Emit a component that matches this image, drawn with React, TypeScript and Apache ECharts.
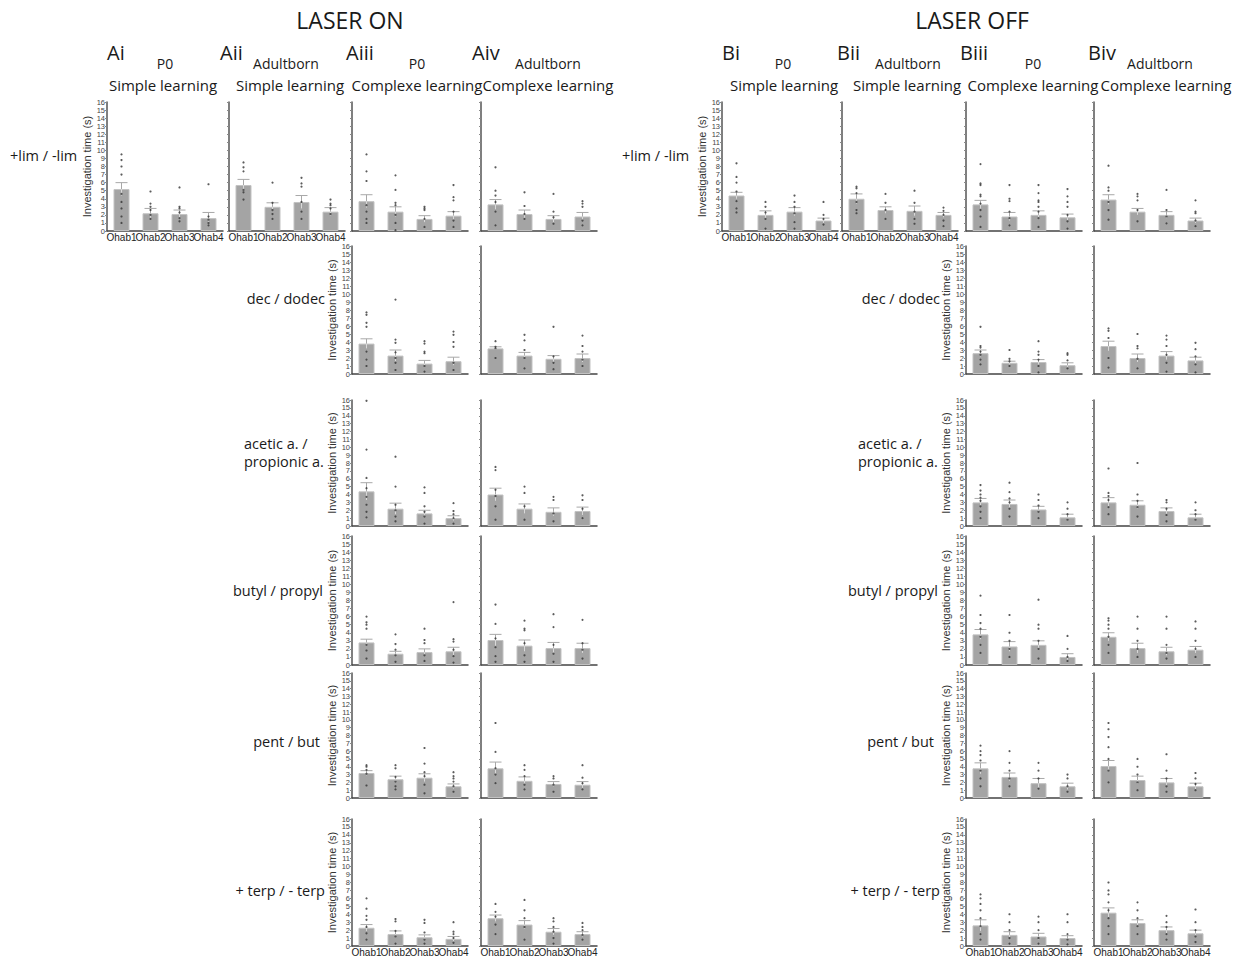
import React, { useEffect, useRef } from "react";
import * as echarts from "echarts";

// ---------- categories / tick labels ----------
const categories = ["Ohab1", "Ohab2", "Ohab3", "Ohab4"];
const yAxisName = "Investigation time (s)";

// ---------- LASER ON ----------
// +lim / -lim
const aiLimMean = [5.2, 2.2, 2.1, 1.6];
const aiLimTop = [6.0, 2.8, 2.6, 2.3];
const aiLimDots = [[9.5, 8.8, 8.0, 7.0, 4.6, 3.6, 2.8, 1.8, 1.0], [4.9, 3.4, 3.0, 2.6, 2.0, 1.5], [5.4, 3.0, 2.8, 2.3, 1.6, 1.2], [5.8, 1.8, 1.4, 1.0, 0.7]];
const aiiLimMean = [5.7, 3.0, 3.6, 2.4];
const aiiLimTop = [6.4, 3.5, 4.4, 2.9];
const aiiLimDots = [[8.5, 7.9, 7.4, 5.1, 4.8, 3.9], [6.0, 3.5, 2.6, 2.1, 1.5], [6.6, 5.9, 5.5, 3.6, 2.4, 1.5], [3.9, 3.4, 3.2, 2.8, 2.1]];
const aiiiLimMean = [3.7, 2.4, 1.5, 1.9];
const aiiiLimTop = [4.5, 3.0, 1.9, 2.4];
const aiiiLimDots = [[9.5, 7.4, 6.2, 3.2, 2.4, 1.5, 1.0], [6.9, 5.1, 3.5, 3.2, 2.0, 1.0, 0.1], [3.0, 2.8, 2.6, 1.5, 0.5], [5.7, 4.2, 3.8, 2.4, 1.3, 0.5]];
const aivLimMean = [3.3, 2.1, 1.5, 1.8];
const aivLimTop = [3.9, 2.6, 1.9, 2.3];
const aivLimDots = [[7.9, 5.0, 4.4, 3.6, 2.4, 0.7], [4.8, 3.1, 2.1, 1.5], [4.6, 2.4, 1.7, 0.9], [3.7, 3.4, 3.0, 1.3, 0.7]];
// dec / dodec
const aiiiDecMean = [3.8, 2.3, 1.3, 1.6];
const aiiiDecTop = [4.4, 3.0, 1.7, 2.1];
const aiiiDecDots = [[7.7, 7.4, 6.4, 5.9, 2.8, 1.8, 1.0], [9.3, 4.3, 3.9, 2.7, 2.0, 1.4, 0.5], [4.1, 3.8, 2.8, 2.6, 1.0, 0.3], [5.3, 4.9, 4.0, 3.4, 1.4, 0.5]];
const aivDecMean = [3.2, 2.3, 1.9, 2.0];
const aivDecTop = [3.4, 2.7, 2.3, 2.5];
const aivDecDots = [[4.1, 3.4, 3.2, 2.0], [4.9, 4.2, 3.0, 2.0, 0.7], [5.9, 2.2, 1.4, 0.6], [4.8, 3.5, 2.8, 1.8, 1.0]];
// acetic a. / propionic a.
const aiiiAceMean = [4.4, 2.2, 1.6, 1.0];
const aiiiAceTop = [5.5, 2.9, 2.0, 1.3];
const aiiiAceDots = [[15.9, 9.7, 6.1, 4.8, 3.7, 2.7, 1.8, 1.1], [8.8, 5.0, 2.7, 2.0, 1.2, 0.6], [4.9, 4.2, 2.5, 1.8, 1.2, 0.3], [2.9, 1.9, 1.5, 1.0, 0.3]];
const aivAceMean = [4.0, 2.2, 1.8, 1.9];
const aivAceTop = [4.8, 2.8, 2.3, 2.4];
const aivAceDots = [[7.5, 7.1, 4.6, 3.8, 2.5, 0.8], [5.0, 4.2, 2.5, 0.8], [3.7, 3.3, 1.6, 0.6], [3.9, 3.3, 2.2, 1.0]];
// butyl / propyl
const aiiiButMean = [2.8, 1.4, 1.6, 1.7];
const aiiiButTop = [3.2, 1.7, 2.0, 2.2];
const aiiiButDots = [[6.0, 5.3, 5.0, 4.5, 2.5, 1.8, 0.8], [3.8, 2.6, 1.9, 1.2, 0.4], [4.5, 3.1, 2.7, 1.2, 0.5], [7.8, 3.2, 2.9, 1.9, 1.1, 0.3]];
const aivButMean = [3.1, 2.4, 2.1, 2.1];
const aivButTop = [3.8, 3.1, 2.8, 2.7];
const aivButDots = [[7.5, 5.1, 3.3, 2.2, 1.1, 0.4], [5.5, 4.5, 4.3, 2.7, 1.2, 0.4], [6.3, 4.7, 2.5, 1.4, 0.4], [5.6, 2.7, 1.9, 0.8]];
// pent / but
const aiiiPentMean = [3.2, 2.4, 2.6, 1.5];
const aiiiPentTop = [3.5, 2.8, 3.1, 1.8];
const aiiiPentDots = [[4.2, 4.0, 3.6, 3.1, 1.6], [4.2, 3.8, 2.7, 2.1, 1.5, 1.1], [6.4, 4.4, 3.3, 2.8, 1.7, 0.6], [3.3, 2.8, 2.5, 2.1, 1.5, 0.8]];
const aivPentMean = [3.8, 2.2, 1.8, 1.7];
const aivPentTop = [4.6, 2.7, 2.1, 2.1];
const aivPentDots = [[9.6, 5.9, 3.8, 3.0, 1.9], [4.2, 3.6, 2.8, 1.7, 1.1], [2.8, 2.5, 1.7, 0.8], [4.2, 2.6, 1.9, 1.1]];
// + terp / - terp
const aiiiTerpMean = [2.3, 1.5, 1.1, 0.9];
const aiiiTerpTop = [2.7, 1.9, 1.4, 1.2];
const aiiiTerpDots = [[6.0, 4.7, 3.8, 3.3, 2.4, 1.6, 0.8], [3.4, 3.1, 1.9, 1.2, 0.3], [3.3, 2.9, 1.7, 0.8, 0.3], [3.0, 1.8, 1.5, 1.0, 0.4]];
const aivTerpMean = [3.5, 2.7, 1.8, 1.5];
const aivTerpTop = [3.9, 3.2, 2.2, 1.8];
const aivTerpDots = [[5.3, 4.3, 3.7, 2.7, 1.5], [5.8, 4.5, 3.5, 2.4, 0.8], [3.5, 3.1, 2.4, 1.8, 1.0, 0.3], [2.9, 2.4, 2.0, 1.4, 0.8]];

// ---------- LASER OFF ----------
const biLimMean = [4.4, 2.0, 2.4, 1.3];
const biLimTop = [4.8, 2.5, 2.9, 1.6];
const biLimDots = [[8.4, 6.7, 6.0, 4.9, 3.7, 2.8, 2.3], [3.6, 3.0, 2.3, 1.5, 0.3], [4.4, 3.6, 3.0, 2.2, 1.1, 0.3], [3.6, 2.0, 1.5, 0.8]];
const biiLimMean = [4.0, 2.6, 2.5, 2.0];
const biiLimTop = [4.6, 3.0, 3.1, 2.3];
const biiLimDots = [[5.5, 5.3, 4.7, 3.6, 2.6, 2.2], [4.6, 3.5, 2.6, 1.5], [5.0, 3.5, 2.4, 1.5, 0.9], [2.9, 2.5, 2.0, 1.3, 0.6]];
const biiiLimMean = [3.3, 1.8, 2.0, 1.7];
const biiiLimTop = [3.8, 2.3, 2.5, 2.1];
const biiiLimDots = [[8.3, 5.9, 5.7, 4.5, 4.3, 3.4, 2.6, 1.8, 0.5], [5.7, 4.0, 3.7, 2.4, 1.6, 0.7], [5.7, 4.7, 3.8, 3.6, 3.0, 2.4, 1.6, 0.5], [5.2, 4.3, 3.6, 3.0, 2.0, 1.2, 0.3]];
const bivLimMean = [3.9, 2.4, 2.0, 1.3];
const bivLimTop = [4.5, 2.8, 2.4, 1.6];
const bivLimDots = [[8.1, 5.4, 5.0, 3.6, 2.6, 1.4], [4.6, 4.3, 3.8, 2.6, 1.2], [5.1, 2.6, 1.8, 0.95], [3.8, 2.4, 2.2, 1.3, 0.6]];
const biiiDecMean = [2.6, 1.4, 1.5, 1.1];
const biiiDecTop = [3.0, 1.6, 1.8, 1.4];
const biiiDecDots = [[5.9, 3.5, 3.3, 2.8, 2.4, 1.8, 1.2], [3.0, 1.9, 1.6, 1.0], [4.1, 2.8, 2.4, 1.8, 1.0, 0.2], [2.6, 2.4, 1.7, 0.7]];
const bivDecMean = [3.5, 2.0, 2.3, 1.7];
const bivDecTop = [4.1, 2.5, 2.8, 2.1];
const bivDecDots = [[5.7, 5.4, 4.5, 2.0, 0.8], [5.0, 3.5, 3.2, 1.9, 0.7], [4.8, 4.3, 3.5, 2.4, 1.4, 0.3], [3.9, 3.1, 2.2, 1.2, 0.2]];
const biiiAceMean = [3.0, 2.8, 2.1, 1.1];
const biiiAceTop = [3.5, 3.3, 2.5, 1.5];
const biiiAceDots = [[5.2, 4.5, 4.0, 3.6, 3.2, 2.5, 1.8, 1.0], [5.5, 4.3, 3.5, 3.0, 2.2, 1.2], [4.0, 3.3, 2.6, 1.8, 1.0], [3.0, 2.2, 1.5, 0.8]];
const bivAceMean = [3.0, 2.7, 1.9, 1.1];
const bivAceTop = [3.6, 3.2, 2.3, 1.5];
const bivAceDots = [[7.3, 4.2, 3.8, 3.3, 2.4, 1.5], [8.0, 4.0, 3.2, 2.4, 1.2], [3.3, 3.0, 2.2, 1.4, 0.6], [3.0, 2.0, 1.5, 0.8]];
const biiiButMean = [3.8, 2.3, 2.5, 1.0];
const biiiButTop = [4.4, 2.9, 3.0, 1.4];
const biiiButDots = [[8.6, 6.2, 5.2, 4.5, 3.5, 2.5, 1.5], [6.2, 4.0, 3.0, 2.0, 1.0], [8.1, 5.0, 4.5, 3.0, 2.0, 0.8], [3.6, 2.0, 1.0, 0.5]];
const bivButMean = [3.5, 2.1, 1.7, 1.9];
const bivButTop = [4.0, 2.7, 2.2, 2.3];
const bivButDots = [[5.8, 5.5, 5.0, 4.5, 3.5, 2.5, 1.5], [6.0, 4.5, 3.0, 2.0, 1.0], [6.0, 4.5, 2.5, 1.5, 0.8], [5.4, 4.5, 3.0, 2.0, 1.0]];
const biiiPentMean = [3.8, 2.7, 1.9, 1.5];
const biiiPentTop = [4.5, 3.2, 2.5, 1.9];
const biiiPentDots = [[6.7, 6.0, 5.5, 4.8, 3.5, 2.5, 1.5], [6.0, 4.5, 3.5, 2.5, 1.5], [4.5, 3.5, 2.5, 1.2], [3.0, 2.5, 1.5, 0.8]];
const bivPentMean = [4.1, 2.3, 2.0, 1.5];
const bivPentTop = [4.8, 2.8, 2.5, 1.9];
const bivPentDots = [[9.6, 8.8, 7.8, 6.5, 5.0, 3.5, 2.0], [5.0, 4.0, 3.0, 2.0, 1.0], [5.6, 3.5, 2.5, 1.5, 0.8], [3.2, 2.5, 1.8, 1.0]];
const biiiTerpMean = [2.6, 1.4, 1.2, 1.0];
const biiiTerpTop = [3.3, 1.8, 1.6, 1.3];
const biiiTerpDots = [[6.5, 6.0, 5.3, 4.5, 3.5, 2.5, 1.5, 0.8], [4.0, 3.0, 2.0, 1.0, 0.3], [3.7, 3.0, 2.0, 1.0, 0.3], [4.0, 3.0, 1.5, 0.8, 0.2]];
const bivTerpMean = [4.2, 2.9, 2.0, 1.6];
const bivTerpTop = [4.8, 3.3, 2.4, 2.0];
const bivTerpDots = [[8.0, 7.0, 6.5, 5.5, 4.5, 3.5, 2.5, 1.5], [5.5, 4.5, 3.5, 2.5, 1.5], [3.8, 3.0, 2.4, 1.5, 0.8], [4.6, 3.0, 2.0, 1.2, 0.5]];

// ---------- layout (positions only) ----------
const colLeft = [107, 229, 352, 481, 722, 842, 966, 1094];
const rowTop = [102, 246, 400, 536, 673, 819];
const rowBottom = [231, 374, 526, 665, 798, 946];
const gridWidth = 116;

type Panel = { col: number; row: number; mean: number[]; top: number[]; dots: number[][]; yl: boolean; xl: boolean };

const panels: Panel[] = [
  { col: 0, row: 0, mean: aiLimMean, top: aiLimTop, dots: aiLimDots, yl: true, xl: true },
  { col: 1, row: 0, mean: aiiLimMean, top: aiiLimTop, dots: aiiLimDots, yl: false, xl: true },
  { col: 2, row: 0, mean: aiiiLimMean, top: aiiiLimTop, dots: aiiiLimDots, yl: false, xl: false },
  { col: 3, row: 0, mean: aivLimMean, top: aivLimTop, dots: aivLimDots, yl: false, xl: false },
  { col: 2, row: 1, mean: aiiiDecMean, top: aiiiDecTop, dots: aiiiDecDots, yl: true, xl: false },
  { col: 3, row: 1, mean: aivDecMean, top: aivDecTop, dots: aivDecDots, yl: false, xl: false },
  { col: 2, row: 2, mean: aiiiAceMean, top: aiiiAceTop, dots: aiiiAceDots, yl: true, xl: false },
  { col: 3, row: 2, mean: aivAceMean, top: aivAceTop, dots: aivAceDots, yl: false, xl: false },
  { col: 2, row: 3, mean: aiiiButMean, top: aiiiButTop, dots: aiiiButDots, yl: true, xl: false },
  { col: 3, row: 3, mean: aivButMean, top: aivButTop, dots: aivButDots, yl: false, xl: false },
  { col: 2, row: 4, mean: aiiiPentMean, top: aiiiPentTop, dots: aiiiPentDots, yl: true, xl: false },
  { col: 3, row: 4, mean: aivPentMean, top: aivPentTop, dots: aivPentDots, yl: false, xl: false },
  { col: 2, row: 5, mean: aiiiTerpMean, top: aiiiTerpTop, dots: aiiiTerpDots, yl: true, xl: true },
  { col: 3, row: 5, mean: aivTerpMean, top: aivTerpTop, dots: aivTerpDots, yl: false, xl: true },
  { col: 4, row: 0, mean: biLimMean, top: biLimTop, dots: biLimDots, yl: true, xl: true },
  { col: 5, row: 0, mean: biiLimMean, top: biiLimTop, dots: biiLimDots, yl: false, xl: true },
  { col: 6, row: 0, mean: biiiLimMean, top: biiiLimTop, dots: biiiLimDots, yl: false, xl: false },
  { col: 7, row: 0, mean: bivLimMean, top: bivLimTop, dots: bivLimDots, yl: false, xl: false },
  { col: 6, row: 1, mean: biiiDecMean, top: biiiDecTop, dots: biiiDecDots, yl: true, xl: false },
  { col: 7, row: 1, mean: bivDecMean, top: bivDecTop, dots: bivDecDots, yl: false, xl: false },
  { col: 6, row: 2, mean: biiiAceMean, top: biiiAceTop, dots: biiiAceDots, yl: true, xl: false },
  { col: 7, row: 2, mean: bivAceMean, top: bivAceTop, dots: bivAceDots, yl: false, xl: false },
  { col: 6, row: 3, mean: biiiButMean, top: biiiButTop, dots: biiiButDots, yl: true, xl: false },
  { col: 7, row: 3, mean: bivButMean, top: bivButTop, dots: bivButDots, yl: false, xl: false },
  { col: 6, row: 4, mean: biiiPentMean, top: biiiPentTop, dots: biiiPentDots, yl: true, xl: false },
  { col: 7, row: 4, mean: bivPentMean, top: bivPentTop, dots: bivPentDots, yl: false, xl: false },
  { col: 6, row: 5, mean: biiiTerpMean, top: biiiTerpTop, dots: biiiTerpDots, yl: true, xl: true },
  { col: 7, row: 5, mean: bivTerpMean, top: bivTerpTop, dots: bivTerpDots, yl: false, xl: true },
];

const FONT = "'Open Sans', 'DejaVu Sans', sans-serif";
const AXFONT = "'Liberation Sans', Arial, sans-serif";

function txt(text: string, x: number, y: number, size: number, align: string = "center") {
  return {
    type: "text",
    x,
    y,
    silent: true,
    style: {
      text,
      fontSize: size,
      fontFamily: FONT,
      fill: "#1a1a1a",
      textAlign: align,
      align,
      textVerticalAlign: "middle",
      verticalAlign: "middle",
    },
  };
}

const texts = [
  txt("LASER ON", 350, 20, 23),
  txt("LASER OFF", 972, 20, 23),
  txt("Ai", 107, 52, 20, "left"),
  txt("Aii", 220, 52, 20, "left"),
  txt("Aiii", 346, 52, 20, "left"),
  txt("Aiv", 472, 52, 20, "left"),
  txt("Bi", 722, 52, 20, "left"),
  txt("Bii", 837, 52, 20, "left"),
  txt("Biii", 960, 52, 20, "left"),
  txt("Biv", 1088, 52, 20, "left"),
  txt("P0", 165, 63, 14),
  txt("Adultborn", 286, 63, 14),
  txt("P0", 417, 63, 14),
  txt("Adultborn", 548, 63, 14),
  txt("P0", 783, 63, 14),
  txt("Adultborn", 908, 63, 14),
  txt("P0", 1033, 63, 14),
  txt("Adultborn", 1160, 63, 14),
  txt("Simple learning", 163, 85, 15),
  txt("Simple learning", 290, 85, 15),
  txt("Complexe learning", 417, 85, 15),
  txt("Complexe learning", 548, 85, 15),
  txt("Simple learning", 784, 85, 15),
  txt("Simple learning", 907, 85, 15),
  txt("Complexe learning", 1033, 85, 15),
  txt("Complexe learning", 1166, 85, 15),
  txt("+lim / -lim", 10, 155, 14.5, "left"),
  txt("+lim / -lim", 622, 155, 14.5, "left"),
  txt("dec / dodec", 325, 298, 14.5, "right"),
  txt("dec / dodec", 940, 298, 14.5, "right"),
  txt("acetic a. /", 244, 443, 14.5, "left"),
  txt("propionic a.", 244, 461, 14.5, "left"),
  txt("acetic a. /", 858, 443, 14.5, "left"),
  txt("propionic a.", 858, 461, 14.5, "left"),
  txt("butyl / propyl", 323, 590, 14.5, "right"),
  txt("butyl / propyl", 938, 590, 14.5, "right"),
  txt("pent / but", 320, 741, 14.5, "right"),
  txt("pent / but", 934, 741, 14.5, "right"),
  txt("+ terp / - terp", 325, 890, 14.5, "right"),
  txt("+ terp / - terp", 940, 890, 14.5, "right"),
];

function errRender(params: any, api: any) {
  const x = api.value(0);
  const lo = api.value(1);
  const hi = api.value(2);
  const m = api.value(3);
  const pHi = api.coord([x, hi]);
  const pLo = api.coord([x, lo]);
  const pM = api.coord([x, m]);
  const hw = 6;
  return {
    type: "group",
    children: [
      { type: "line", shape: { x1: pLo[0], y1: pLo[1], x2: pM[0], y2: pM[1] }, style: { stroke: "#d9d9d9", lineWidth: 1 } },
      { type: "line", shape: { x1: pM[0], y1: pM[1], x2: pHi[0], y2: pHi[1] }, style: { stroke: "#a8a8a8", lineWidth: 1 } },
      { type: "line", shape: { x1: pHi[0] - hw, y1: pHi[1], x2: pHi[0] + hw, y2: pHi[1] }, style: { stroke: "#a8a8a8", lineWidth: 1 } },
    ],
  };
}

function buildOption() {
  const grid = panels.map((p) => ({
    left: colLeft[p.col],
    top: rowTop[p.row],
    width: gridWidth,
    height: rowBottom[p.row] - rowTop[p.row],
  }));
  const xAxis = panels.map((p, i) => ({
    type: "category",
    gridIndex: i,
    data: categories,
    axisTick: { show: false },
    axisLine: { lineStyle: { color: "#444", width: 1.5 } },
    axisLabel: { show: p.xl, interval: 0, fontSize: 10, fontFamily: AXFONT, color: "#222", margin: 1 },
    splitLine: { show: false },
  }));
  const yAxis = panels.map((p, i) => ({
    type: "value",
    gridIndex: i,
    min: 0,
    max: 16,
    interval: 1,
    name: p.yl ? yAxisName : "",
    nameLocation: "middle",
    nameGap: 15,
    nameRotate: 90,
    nameTextStyle: { fontSize: 11, fontFamily: AXFONT, color: "#333" },
    axisLine: { show: true, lineStyle: { color: "#555", width: 1.5 } },
    axisTick: { show: true, length: 2, lineStyle: { color: "#888" } },
    axisLabel: { show: p.yl, fontSize: 7.5, fontFamily: AXFONT, color: "#444", margin: 2 },
    splitLine: { show: false },
  }));
  const series: any[] = [];
  panels.forEach((p, i) => {
    series.push({
      type: "bar",
      xAxisIndex: i,
      yAxisIndex: i,
      data: p.mean,
      barWidth: 16,
      silent: true,
      itemStyle: { color: "#a4a4a4", borderColor: "#c2c2c2", borderWidth: 1 },
      z: 2,
    });
    series.push({
      type: "custom",
      xAxisIndex: i,
      yAxisIndex: i,
      data: p.mean.map((m, k) => [k, 2 * m - p.top[k], p.top[k], m]),
      encode: { x: 0, y: [1, 2] },
      renderItem: errRender,
      silent: true,
      z: 3,
    });
    series.push({
      type: "scatter",
      xAxisIndex: i,
      yAxisIndex: i,
      data: p.dots.flatMap((arr, k) => arr.map((v) => [k, v])),
      symbolSize: 2.2,
      itemStyle: { color: "#333" },
      silent: true,
      z: 4,
    });
  });
  return {
    animation: false,
    backgroundColor: "#ffffff",
    grid,
    xAxis,
    yAxis,
    series,
    graphic: texts,
  };
}

export default function App() {
  const ref = useRef<HTMLDivElement>(null);
  useEffect(() => {
    if (!ref.current) return;
    const chart = echarts.init(ref.current, undefined, { renderer: "svg" });
    chart.setOption(buildOption() as any);
    return () => chart.dispose();
  }, []);
  return (
    <div
      ref={ref}
      style={{ position: "absolute", left: 0, top: 0, width: 1241, height: 959, background: "#fff" }}
    />
  );
}
